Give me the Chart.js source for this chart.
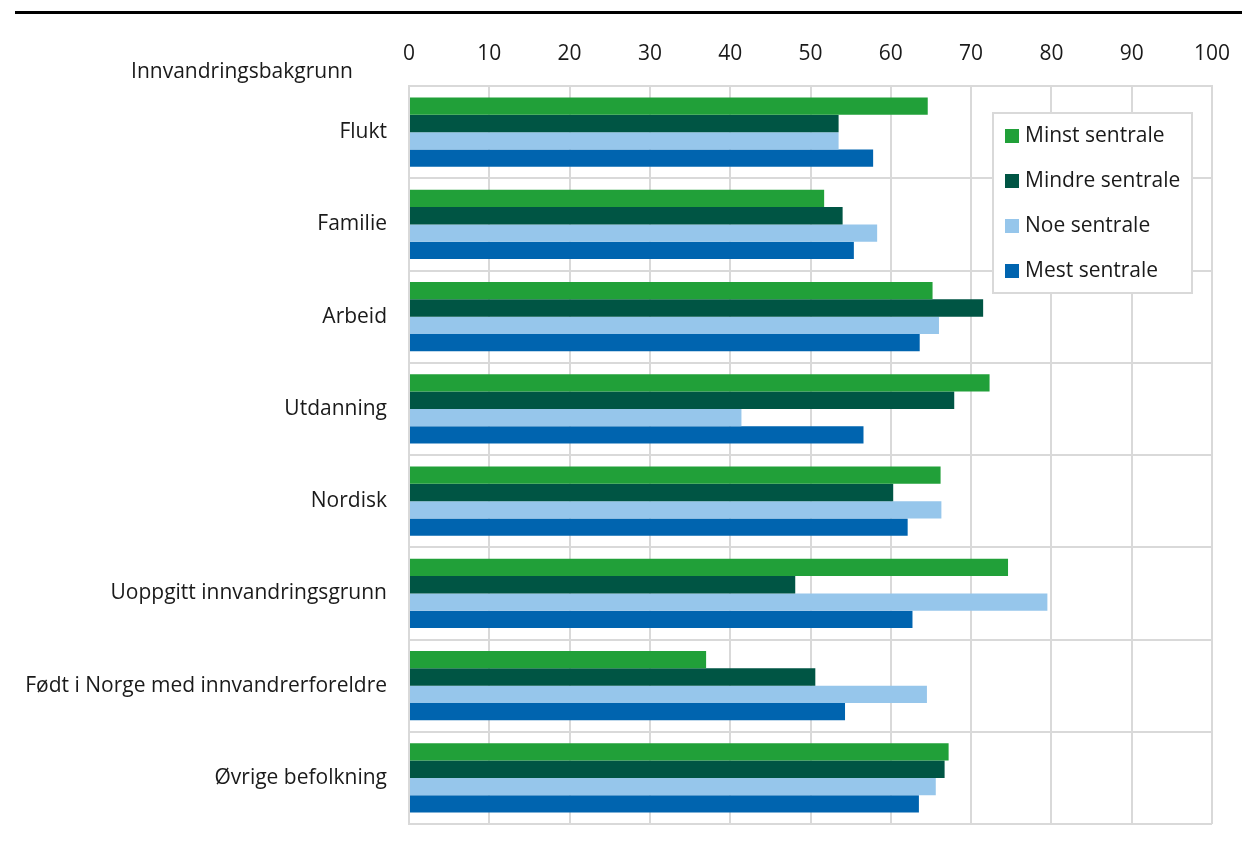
<!DOCTYPE html>
<html>
<head>
<meta charset="utf-8">
<script src="https://cdn.jsdelivr.net/npm/chart.js@4.4.1/dist/chart.umd.min.js"></script>
<style>
	body { margin: 0; background: #fff; }
	#wrap { position: relative; width: 1242px; height: 843px; }
	#rule { position: absolute; left: 15px; right: 0; top: 11px; height: 3px; background: #000; }
	#chart { position: absolute; left: 0; top: 0; }
</style>
</head>
<body>
<div id="wrap">
	<canvas id="chart" width="1242" height="843"></canvas>
	<div id="rule"></div>
</div>
<script>
var categories = ["Flukt", "Familie", "Arbeid", "Utdanning", "Nordisk", "Uoppgitt innvandringsgrunn", "Født i Norge med innvandrerforeldre", "Øvrige befolkning"];
var seriesNames = ["Minst sentrale", "Mindre sentrale", "Noe sentrale", "Mest sentrale"];
var minstSentrale = [64.6, 51.7, 65.2, 72.3, 66.2, 74.6, 37.0, 67.2];
var mindreSentrale = [53.5, 54.0, 71.5, 67.9, 60.3, 48.1, 50.6, 66.7];
var noeSentrale = [53.5, 58.3, 66.0, 41.4, 66.3, 79.5, 64.5, 65.6];
var mestSentrale = [57.8, 55.4, 63.6, 56.6, 62.1, 62.7, 54.3, 63.5];
var xTicks = [0, 10, 20, 30, 40, 50, 60, 70, 80, 90, 100];
var colors = ["#21a039", "#005544", "#96c6eb", "#0064af"];

var FONT = "'Open Sans', sans-serif";
var gridColor = "#d9d9d9";

// legend box sits inside the plot, top right
var boxLegend = {
	id: 'boxLegend',
	afterDraw: function(chart) {
		var ctx = chart.ctx;
		var x = 993, y = 113, w = 199, h = 180;
		ctx.save();
		ctx.fillStyle = "#fff";
		ctx.fillRect(x, y, w, h);
		ctx.strokeStyle = gridColor;
		ctx.lineWidth = 2;
		ctx.strokeRect(x, y, w, h);
		ctx.font = "21px " + FONT;
		ctx.textBaseline = "middle";
		chart.data.datasets.forEach(function(ds, i) {
			var cy = y + 23 + i * 45;
			ctx.fillStyle = ds.backgroundColor;
			ctx.fillRect(x + 12, cy - 7, 14, 14);
			ctx.fillStyle = "#1a1a1a";
			ctx.fillText(ds.label, x + 32, cy);
		});
		ctx.restore();
	}
};

// axis heading above the category labels
var axisHeading = {
	id: 'axisHeading',
	afterDraw: function(chart) {
		var ctx = chart.ctx;
		ctx.save();
		ctx.font = "21px " + FONT;
		ctx.fillStyle = "#1a1a1a";
		ctx.textAlign = "center";
		ctx.textBaseline = "middle";
		ctx.fillText("Innvandringsbakgrunn", 242, 72);
		ctx.restore();
	}
};

var ctx1 = document.getElementById('chart').getContext('2d');
var chart = new Chart(ctx1, {
	type: 'bar',
	data: {
		labels: categories,
		datasets: [
			{ label: seriesNames[0], data: minstSentrale, backgroundColor: colors[0] },
			{ label: seriesNames[1], data: mindreSentrale, backgroundColor: colors[1] },
			{ label: seriesNames[2], data: noeSentrale, backgroundColor: colors[2] },
			{ label: seriesNames[3], data: mestSentrale, backgroundColor: colors[3] }
		]
	},
	options: {
		indexAxis: 'y',
		responsive: false,
		animation: false,
		categoryPercentage: 0.75,
		barPercentage: 1.0,
		layout: { padding: { left: 0, right: 30, top: 0, bottom: 19 } },
		plugins: {
			legend: { display: false },
			tooltip: { enabled: false }
		},
		scales: {
			x: {
				position: 'top',
				min: 0,
				max: 100,
				afterBuildTicks: function(scale) {
					scale.ticks = xTicks.map(function(v) { return { value: v }; });
				},
				// fixed box, no extra room for the end labels
				afterFit: function(scale) {
					scale.height = 86;
					scale.paddingLeft = 0;
					scale.paddingRight = 0;
				},
				grid: { color: gridColor, lineWidth: 2, drawTicks: false },
				border: { color: gridColor, width: 2 },
				ticks: { padding: 19, color: "#1a1a1a", font: { family: FONT, size: 21 } }
			},
			y: {
				afterFit: function(scale) {
					scale.width = 409;
					scale.paddingTop = 0;
					scale.paddingBottom = 0;
				},
				grid: { color: gridColor, lineWidth: 2, drawTicks: false },
				border: { color: gridColor, width: 2 },
				ticks: { padding: 22, color: "#1a1a1a", font: { family: FONT, size: 21 } }
			}
		}
	},
	plugins: [boxLegend, axisHeading]
});
</script>
</body>
</html>
